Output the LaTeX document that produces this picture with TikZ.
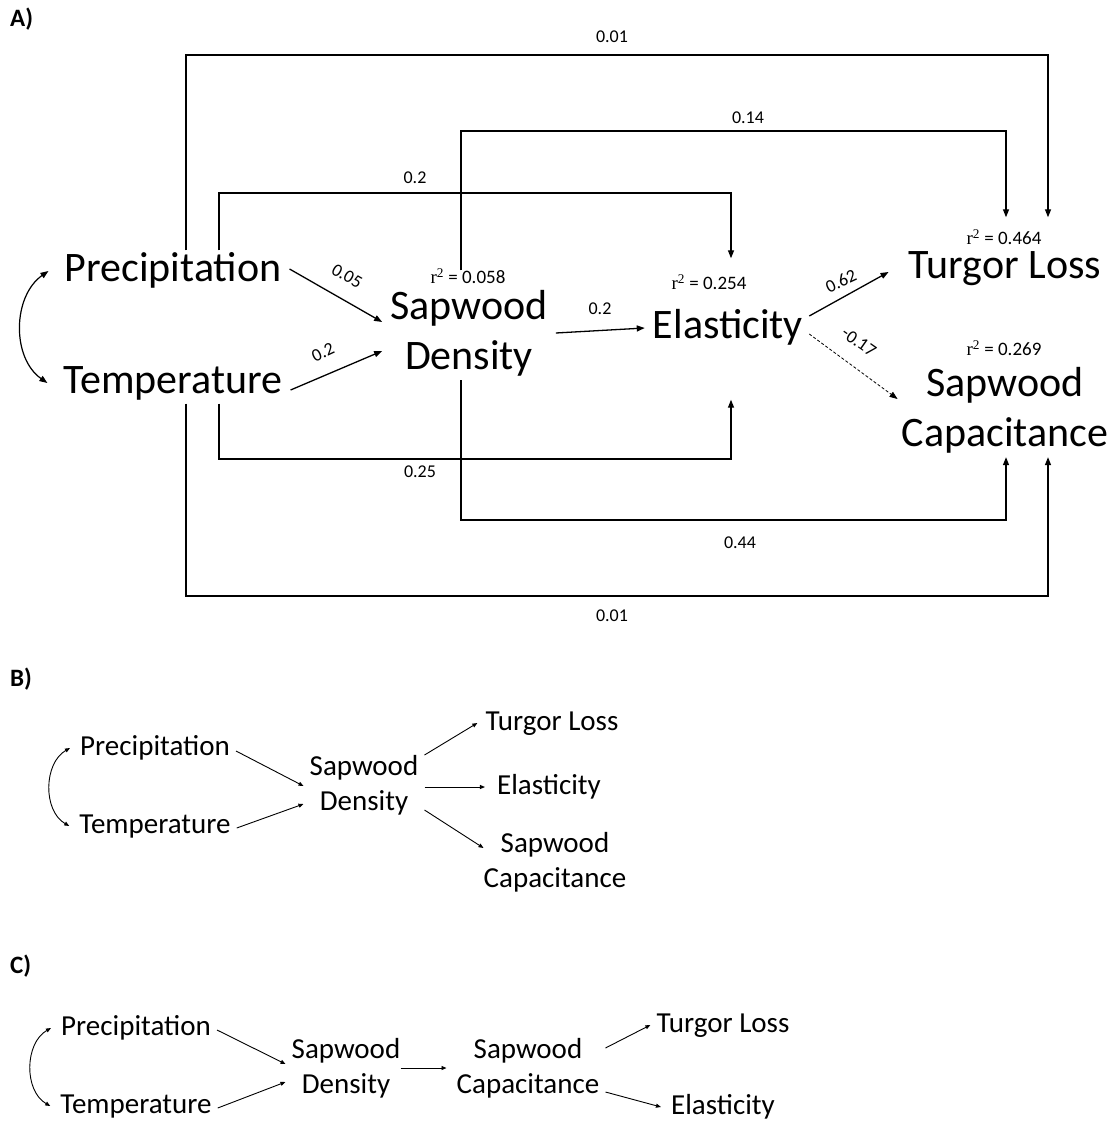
\documentclass[tikz,border=0pt]{standalone}
\usepackage{fontspec}
\setmainfont{Carlito}
\newfontfamily\serifr{Liberation Serif}
\usetikzlibrary{arrows.meta}
\begin{document}
\begin{tikzpicture}[x=1pt,y=-1pt,
  bigA/.style={font=\fontsize{42}{50}\selectfont, inner xsep=8pt, inner ysep=0pt, align=center},
  one/.style={text height=31pt, text depth=10pt},
  two/.style={inner ysep=4pt},
  smB/.style={font=\fontsize{29}{35}\selectfont, inner xsep=6pt, inner ysep=0pt, align=center},
  oneB/.style={text height=21pt, text depth=7pt},
  r2/.style={font=\fontsize{19}{22}\selectfont, inner sep=0pt, text height=13pt, text depth=4pt},
  wl/.style={font=\fontsize{18}{21}\selectfont, inner sep=1pt},
  panel/.style={font=\fontsize{25}{28}\selectfont\bfseries, anchor=west, inner sep=0pt},
  tipA/.tip={Triangle[length=8pt,width=6pt]},
  tipB/.tip={Triangle[length=5pt,width=4pt]},
  arrA/.style={line width=1.3pt, -tipA},
  dblA/.style={line width=1.2pt, tipA-tipA},
  dashA/.style={line width=0.8pt, dash pattern=on 3pt off 2pt, -tipA},
  arrB/.style={line width=0.9pt, -tipB},
  dblB/.style={line width=0.9pt, tipB-tipB}
]
\useasboundingbox (0,0) rectangle (1117,1122);

% ---------------- Panel A ----------------
\node[panel] (lA) at (10,19) {A)};
\node[bigA, one] (P) at (173,271) {Precipitation};
\node[bigA, one] (T) at (173,383) {Temperature};
\node[bigA, two] (SD) at (469,333) {Sapwood\\Density};
\node[bigA, one] (E) at (728,328) {Elasticity};
\node[bigA, one] (TL) at (1005,268) {Turgor Loss};
\node[bigA, two] (SC) at (1005,410) {Sapwood\\Capacitance};

\node[r2] (r2SD) at (468,279) {{\serifr r\textsuperscript{2}} = 0.058};
\node[r2] (r2E) at (709,285) {{\serifr r\textsuperscript{2}} = 0.254};
\node[r2] (r2TL) at (1004,240) {{\serifr r\textsuperscript{2}} = 0.464};
\node[r2] (r2SC) at (1004,351) {{\serifr r\textsuperscript{2}} = 0.269};

% corners of the routed connectors
\coordinate (a1) at (186,55);  \coordinate (a2) at (1048,55);
\coordinate (b1) at (461,131); \coordinate (b2) at (1006,131);
\coordinate (d1) at (219,193); \coordinate (d2) at (731,193);
\coordinate (e1) at (219,459); \coordinate (e2) at (731,459);
\coordinate (f1) at (461,520); \coordinate (f2) at (1006,520);
\coordinate (g1) at (186,596); \coordinate (g2) at (1048,596);

\draw[arrA, shorten >=14pt] (P.north -| a1) -- (a1) -- (a2) -- (r2TL.north -| a2);
\draw[arrA, shorten >=14pt] (r2SD.north -| b1) -- (b1) -- (b2) -- (r2TL.north -| b2);
\draw[arrA, shorten >=18pt] (P.north -| d1) -- (d1) -- (d2) -- (r2E.north -| d2);
\draw[arrA, shorten >=51pt] (T.south -| e1) -- (e1) -- (e2) -- (E.south -| e2);
\draw[arrA] (SD.south -| f1) -- (f1) -- (f2) -- (SC.south -| f2);
\draw[arrA] (T.south -| g1) -- (g1) -- (g2) -- (SC.south -| g2);

\node[wl] (w1) at (612,37) {0.01};
\node[wl] (w2) at (748,118) {0.14};
\node[wl] (w3) at (415,178) {0.2};
\node[wl] (w4) at (420,472) {0.25};
\node[wl] (w5) at (740,543) {0.44};
\node[wl] (w6) at (612,616) {0.01};

\draw[arrA] ([yshift=2pt]P.east) -- ([yshift=11pt]SD.west);
\draw[arrA] ([yshift=-7pt]T.east) -- ([yshift=-18pt]SD.west);
\draw[arrA] (SD.east) -- (E.west);
\draw[arrA] ([xshift=-2pt,yshift=12pt]E.east) -- ([xshift=-12pt,yshift=-4pt]TL.west);
\draw[dashA] ([xshift=-2pt,yshift=-6pt]E.east) -- ([xshift=4pt,yshift=11pt]SC.west);
\draw[dblA] ([xshift=-8pt]P.west) to[out=215,in=145] ([xshift=-8pt]T.west);

\node[wl, rotate=-30] (w7) at (347,276) {0.05};
\node[wl, rotate=25] (w8) at (323,352) {0.2};
\node[wl] (w9) at (600,309) {0.2};
\node[wl, rotate=25] (w10) at (841,281) {0.62};
\node[wl, rotate=-35] (w11) at (859,342) {-0.17};

% ---------------- Panel B ----------------
\node[panel] (lB) at (10,679) {B)};
\node[smB, oneB] (PB) at (155,748) {Precipitation};
\node[smB, oneB] (TB) at (155,826) {Temperature};
\node[smB] (SDB) at (364,785) {Sapwood\\Density};
\node[smB, oneB] (TLB) at (552,723) {Turgor Loss};
\node[smB, oneB] (EB) at (549,787) {Elasticity};
\node[smB] (SCB) at (555,862) {Sapwood\\Capacitance};

\draw[arrB] ([yshift=-3pt]PB.east) -- ([yshift=-1pt]SDB.west);
\draw[arrB] ([yshift=-2pt]TB.east) -- ([yshift=-19pt]SDB.west);
\draw[arrB] ([yshift=30pt]SDB.east) -- ([xshift=-2pt]TLB.west);
\draw[arrB] ([yshift=-2pt]SDB.east) -- ([xshift=-6pt]EB.west);
\draw[arrB] ([yshift=-25pt]SDB.east) -- ([xshift=6pt,yshift=14pt]SCB.west);
\draw[dblB] ([xshift=-4pt]PB.west) to[out=210,in=150] ([xshift=-4pt]TB.west);

% ---------------- Panel C ----------------
\node[panel] (lC) at (10,966) {C)};
\node[smB, oneB] (PC) at (136,1028) {Precipitation};
\node[smB, oneB] (TC) at (136,1106) {Temperature};
\node[smB] (SDC) at (346,1068) {Sapwood\\Density};
\node[smB] (SCC) at (528,1068) {Sapwood\\Capacitance};
\node[smB, oneB] (TLC) at (723,1025) {Turgor Loss};
\node[smB, oneB] (EC) at (723,1107) {Elasticity};

\draw[arrB] ([yshift=-2pt]PC.east) -- ([yshift=4pt]SDC.west);
\draw[arrB] ([yshift=-2pt]TC.east) -- ([yshift=-14pt]SDC.west);
\draw[arrB] ([xshift=-6pt]SDC.east) -- ([xshift=-4pt]SCC.west);
\draw[arrB] ([yshift=20pt]SCC.east) -- (TLC.west);
\draw[arrB] ([yshift=-24pt]SCC.east) -- ([xshift=-4pt]EC.west);
\draw[dblB] ([xshift=-4pt]PC.west) to[out=210,in=150] ([xshift=-4pt]TC.west);
\end{tikzpicture}
\end{document}
